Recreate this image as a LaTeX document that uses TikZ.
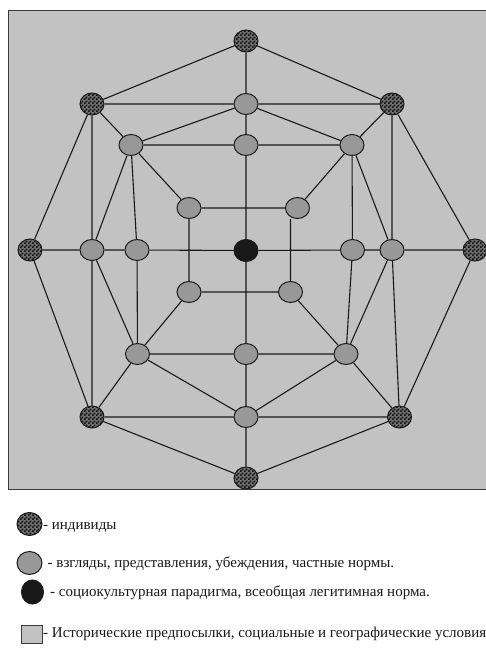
\documentclass[tikz,border=0pt]{standalone}
\usepackage{fontspec}
\setmainfont{Liberation Serif}
\usetikzlibrary{shapes.geometric,patterns.meta}
\definecolor{bgc}{HTML}{C2C2C2}
\definecolor{nodec}{HTML}{989898}
\definecolor{linec}{HTML}{1A1A1A}
\definecolor{framec}{HTML}{3A3A3A}
\tikzdeclarepattern{
  name=finecheck,
  type=uncolored,
  bounding box={(0pt,0pt) and (4pt,4pt)},
  tile size={(4pt,4pt)},
  code={\pgfpathrectangle{\pgfpoint{0pt}{0pt}}{\pgfpoint{2pt}{2pt}}\pgfpathrectangle{\pgfpoint{2pt}{2pt}}{\pgfpoint{2pt}{2pt}}\pgfusepath{fill}}
}
\tikzset{
  indiv/.style={ellipse, inner sep=0pt, minimum width=24pt, minimum height=22pt, draw=linec, line width=1pt, preaction={fill=black!55}, pattern=finecheck, pattern color=black!95},
  view/.style={ellipse, inner sep=0pt, minimum width=24pt, minimum height=21pt, draw=linec, line width=1pt, fill=nodec},
  core/.style={ellipse, inner sep=0pt, minimum width=24pt, minimum height=22pt, draw=linec, line width=1pt, fill=black!90},
  edge/.style={draw=linec, line width=1.1pt},
  legtext/.style={anchor=base west, inner sep=0pt, font=\fontsize{15}{17}\selectfont, text=black!90}
}
\begin{document}
\begin{tikzpicture}[x=1pt,y=-1pt]
\useasboundingbox (0,0) rectangle (486,664);
\clip (0,0) rectangle (486,664);
\fill[white] (0,0) rectangle (486,664);
\draw[fill=bgc, draw=framec, line width=1pt] (8,10) rectangle (496,489);
% individuals
\node[indiv] (T) at (246,41) {};
\node[indiv] (UL) at (92,104) {};
\node[indiv] (UR) at (392,104) {};
\node[indiv] (L) at (30,250) {};
\node[indiv] (R) at (475,250) {};
\node[indiv] (LL) at (92,417) {};
\node[indiv] (LR) at (399.5,417) {};
\node[indiv] (Bt) at (246,478) {};
% views
\node[view] (A1) at (246,104) {};
\node[view] (BL) at (131,145) {};
\node[view] (BM) at (246,145) {};
\node[view] (BR) at (352,145) {};
\node[view] (CUL) at (189,208) {};
\node[view] (CUR) at (297.5,208) {};
\node[view] (D1) at (92,250) {};
\node[view] (D2) at (137,250) {};
\node[view] (D3) at (352.5,250) {};
\node[view] (D4) at (392,250) {};
\node[view] (CLL) at (189,292) {};
\node[view] (CLR) at (290.5,292) {};
\node[view] (EL) at (137.5,354) {};
\node[view] (EM) at (246,354) {};
\node[view] (ER) at (346,354) {};
\node[view] (FM) at (246,417) {};
% core
\node[core] (C) at (246,250.5) {};
% edges
\path[edge] (T) -- (UL) (T) -- (UR) (T) -- (A1)
  (UL) -- (A1) (A1) -- (UR) (UL) -- (BL) (A1) -- (BL) (A1) -- (BR) (A1) -- (BM) (UR) -- (BR)
  (BL) -- (BM) (BM) -- (BR) (BL) -- (CUL) (BR) -- (CUR) (CUL) -- (CUR) (BM) -- (C)
  (UL) -- (L) (UL) -- (D1) (BL) -- (D1) (BL) -- (D2) (CUL) -- (CLL)
  (CLR) -- (CLR |- CUR.south) (BR) -- (D3) (BR) -- (D4) (UR) -- (D4) (UR) -- (R)
  (L) -- (D1) (D1) -- (D2) (D2) -- (C) (C) -- (D3) (D3) -- (D4) (D4) -- (R)
  (CLL) -- (CLR) (C) -- (EM)
  (L) -- (LL) (D1) -- (LL) (D1) -- (EL) (D2) -- (EL) (CLL) -- (EL) (CLR) -- (ER)
  (D3) -- (ER) (D4) -- (ER) (D4) -- (LR) (R) -- (LR)
  (EL) -- (EM) (EM) -- (ER) (EL) -- (LL) (EL) -- (FM) (ER) -- (FM) (ER) -- (LR) (EM) -- (FM)
  (LL) -- (FM) (FM) -- (LR) (LL) -- (Bt) (LR) -- (Bt) (FM) -- (Bt);
% legend
\node[indiv, minimum width=25pt, minimum height=23pt] (k1) at (29.5,524) {};
\node[legtext] (t1) at (43,529) {- индивиды};
\node[view, minimum width=25pt, minimum height=23pt] (k2) at (29.5,563) {};
\node[legtext] (t2) at (47.5,567.5) {- взгляды, представления, убеждения, частные нормы.};
\node[core, minimum width=22pt, minimum height=24pt] (k3) at (32.5,592) {};
\node[legtext] (t3) at (50,596.5) {- социокультурная парадигма, всеобщая легитимная норма.};
\node[draw=framec, fill=bgc, line width=1pt, minimum width=21pt, minimum height=18pt, inner sep=0pt] (k4) at (31.5,634) {};
\node[legtext] (t4) at (43,637) {- Исторические предпосылки, социальные и географические условия};
\end{tikzpicture}
\end{document}
